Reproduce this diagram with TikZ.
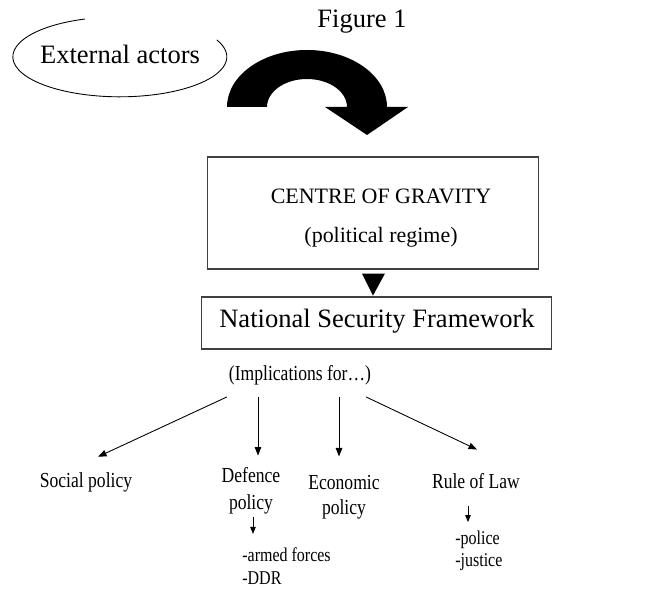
\documentclass[tikz,border=0pt]{standalone}
\usepackage{fontspec}
\setmainfont{Liberation Serif}
\newfontfamily\narrowserif[FakeStretch=0.82]{Liberation Serif}
\usetikzlibrary{arrows.meta,calc}

\begin{document}
\begin{tikzpicture}[x=0.02cm,y=-0.02cm,
    bigtext/.style={inner sep=0pt,anchor=base,font=\fontsize{15.1}{18}\selectfont},
    midtext/.style={inner sep=0pt,anchor=base,font=\fontsize{12.5}{15}\selectfont},
    lowtext/.style={inner sep=0pt,anchor=base,font=\narrowserif\fontsize{12.2}{15}\selectfont},
    smalltext/.style={inner sep=0pt,anchor=base west,font=\narrowserif\fontsize{11.1}{13}\selectfont},
    frame/.style={draw=black!75,line width=0.6pt,inner sep=0pt},
    pointer/.style={line width=0.5pt,-{Triangle[length=1.7mm,width=1.3mm]}},
    tick/.style={line width=0.5pt,-{Triangle[length=1.4mm,width=1.1mm]}}]
    \useasboundingbox (0,0) rectangle (647,590);
    \node[bigtext] (title) at (362,28) {Figure 1};
    %outside actors and their push on the regime
    \node[bigtext] (external) at (120,64) {External actors};
    \draw[line width=0.5pt] (85,19) arc[start angle=-109,end angle=-385,x radius=107,y radius=40];
    \fill (227,107) arc[start angle=180,end angle=360,x radius=80,y radius=57]
        -- (408,107) -- (367,135) -- (325,107) -- (347,107)
        arc[start angle=360,end angle=180,x radius=40,y radius=28] -- cycle;
    %the two boxes
    \node[frame,minimum width=6.64cm,minimum height=2.24cm] (gravity) at (373,213) {};
    \node[midtext] (centre) at (381,204) {CENTRE OF GRAVITY};
    \node[midtext] (regime) at (381,243) {(political regime)};
    \fill ($(gravity.south)+(-11,4)$) -- ++(23,0) -- ($(gravity.south)+(0,26)$) -- cycle;
    \node[frame,minimum width=7.02cm,minimum height=1.04cm] (nsfbox) at (376.5,323) {};
    \node[bigtext] (nsf) at (377,328) {National Security Framework};
    %policy fields
    \node[lowtext] (impl) at (300,381) {(Implications for…)};
    \node[lowtext] (social) at (86,488) {Social policy};
    \node[lowtext] (defence) at (251,483) {Defence};
    \node[lowtext] (defencepol) at (251,510) {policy};
    \node[lowtext] (economic) at (344,490) {Economic};
    \node[lowtext] (economicpol) at (344,515) {policy};
    \node[lowtext] (rule) at (476,489) {Rule of Law};
    \node[smalltext] (armed) at (242,562) {-armed forces};
    \node[smalltext] (ddr) at (242,585) {-DDR};
    \node[smalltext] (police) at (455,545) {-police};
    \node[smalltext] (justice) at (455,567) {-justice};
    \draw[pointer] ($(impl.south)+(-73,11)$) -- ($(social.north)+(12,-16)$);
    \draw[pointer] ($(impl.south)+(-42,11)$) -- ($(defence.north)+(7,-12)$);
    \draw[pointer] ($(impl.south)+(39,11)$) -- ($(economic.north)+(-5,-19)$);
    \draw[pointer] ($(impl.south)+(66,11)$) -- ($(rule.north)+(1,-24)$);
    \draw[tick] ($(defencepol.south)+(2,2)$) -- ($(armed.north west)+(11,-14)$);
    \draw[tick] ($(rule.south)+(-8,16)$) -- ($(police.north west)+(13,-9)$);
\end{tikzpicture}
\end{document}
